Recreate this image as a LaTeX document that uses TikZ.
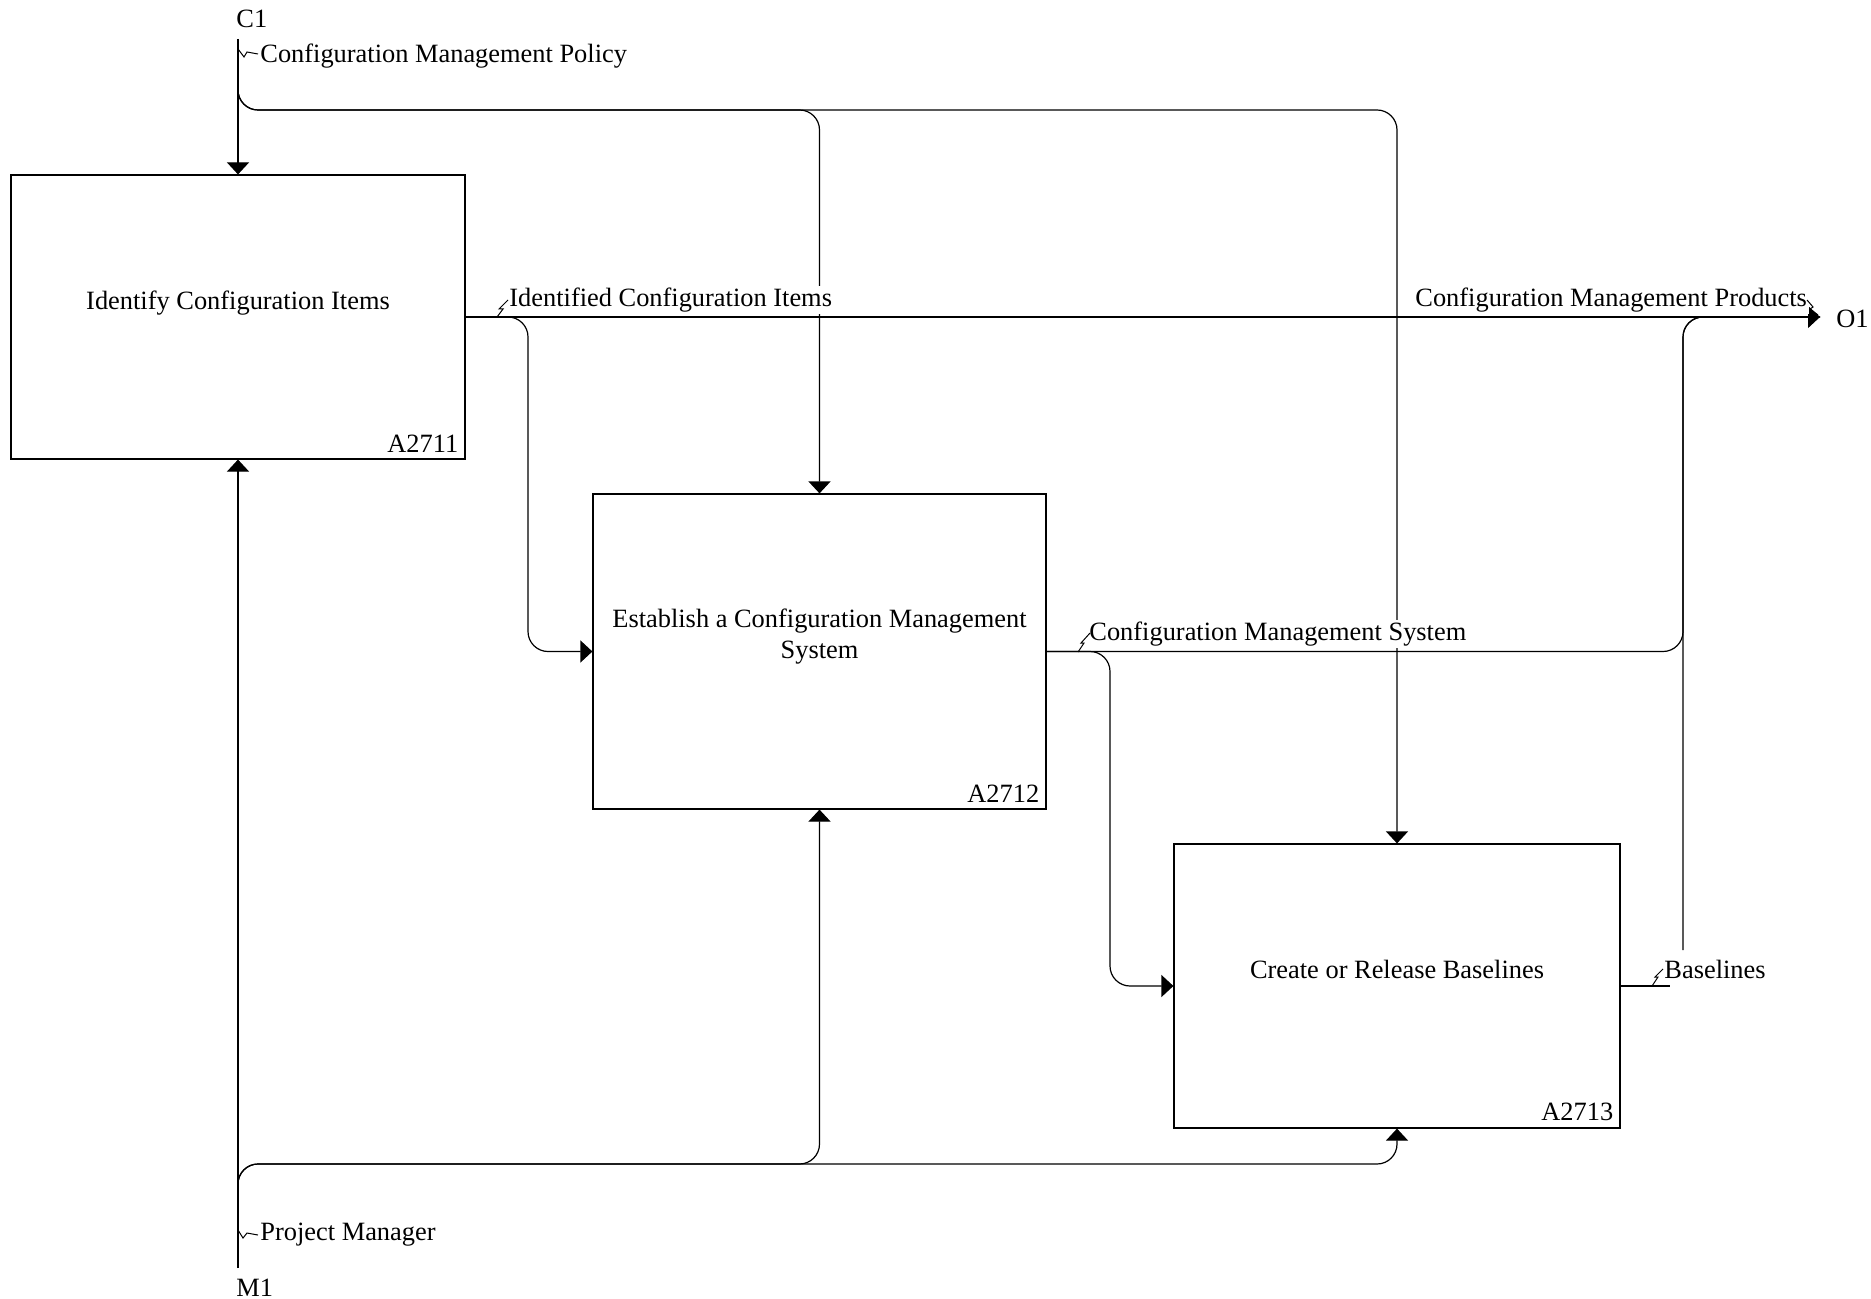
\documentclass[tikz,border=0pt]{standalone}
\usepackage{fontspec}
\setmainfont{Liberation Serif}
\usetikzlibrary{arrows.meta}

\begin{document}
\begin{tikzpicture}[x=0.5pt,y=-0.5pt,
  every node/.style={font=\fontsize{13.2}{15.6}\selectfont,inner sep=1pt},
  box/.style={draw,line width=0.6pt,inner sep=0pt},
  pipe/.style={line width=0.6pt,rounded corners=10pt},
  flow/.style={pipe,-{Triangle[width=11pt,length=6pt]}},
  tag/.style={fill=white,anchor=west},
  tick/.style={line width=0.5pt}]
\useasboundingbox (0,0) rectangle (1871,1299);
\node[box,minimum width=227pt,minimum height=142pt] (identify) at (238,317) {};
\node[box,minimum width=226.5pt,minimum height=157.5pt] (establish) at (819.5,651.5) {};
\node[box,minimum width=223pt,minimum height=142pt] (create) at (1397,986) {};
\node at ([yshift=7pt]identify.center) (identify-txt) {Identify Configuration Items};
\node[align=center] at ([yshift=7.5pt]establish.center) (establish-txt) {Establish a Configuration Management\\System};
\node at ([yshift=8.5pt]create.center) (create-txt) {Create or Release Baselines};
\node[anchor=south east,inner sep=3.5pt] (a2711) at (identify.south east) {A2711};
\node[anchor=south east,inner sep=3.5pt] (a2712) at (establish.south east) {A2712};
\node[anchor=south east,inner sep=3.5pt] (a2713) at (create.south east) {A2713};
\coordinate (C1) at (238,39);
\coordinate (M1) at (238,1268);
\coordinate (O1) at (1820,317);
\coordinate (cfork) at (238,88);
\coordinate (cbus) at (0,110);
\coordinate (mfork) at (238,1190);
\coordinate (mbus) at (0,1164);
\coordinate (ibend) at (528,0);
\coordinate (sbend) at (1110,0);
\coordinate (rbend) at (1683,0);
\coordinate (bstub) at (1670,986);
\coordinate (bjoin) at (1683,950);
\draw[flow] (C1) -- (identify.north);
\draw[flow] (cfork) |- (establish.north |- cbus) -- (establish.north);
\draw[flow] (cfork) |- (create.north |- cbus) -- (create.north);
\draw[flow] (identify.east) -- (O1);
\draw[flow] (identify.east) -| (ibend |- establish.west) -- (establish.west);
\draw[flow] (establish.east) -| (sbend |- create.west) -- (create.west);
\draw[pipe] (establish.east) -| (rbend |- O1) -- (O1);
\draw[pipe] (create.east) -- (bstub);
\draw[pipe] (bjoin) |- (O1);
\draw[flow] (M1) -- (identify.south);
\draw[flow] (mfork) |- (establish.south |- mbus) -- (establish.south);
\draw[flow] (mfork) |- (create.south |- mbus) -- (create.south);
\node[anchor=west] (c1) at (234,19) {C1};
\node[anchor=west] (m1) at (234,1288) {M1};
\node[anchor=west] (o1) at (1834,319) {O1};
\node[tag] (policy) at (258,56) {Configuration Management Policy};
\node[tag] (identified) at (507,300) {Identified Configuration Items};
\node[tag] (products) at (1413,300) {Configuration Management Products};
\node[tag] (system) at (1087,634) {Configuration Management System};
\node[tag] (baselines) at (1662,969) {Baselines};
\node[tag] (manager) at (258,1235) {Project Manager};
\draw[tick] (238,49) -- (244,57) -- (247,52) -- (258,54);
\draw[tick] (497,317) -- (503,309) -- (499,309) -- (508,300);
\draw[tick] (1807,300) -- (1813,307) -- (1810,309) -- (1818,315);
\draw[tick] (1078,652) -- (1084,643) -- (1081,643) -- (1090,633);
\draw[tick] (1652,986) -- (1658,977) -- (1655,977) -- (1663,969);
\draw[tick] (238,1230) -- (243,1238) -- (247,1233) -- (258,1235);
\end{tikzpicture}
\end{document}
